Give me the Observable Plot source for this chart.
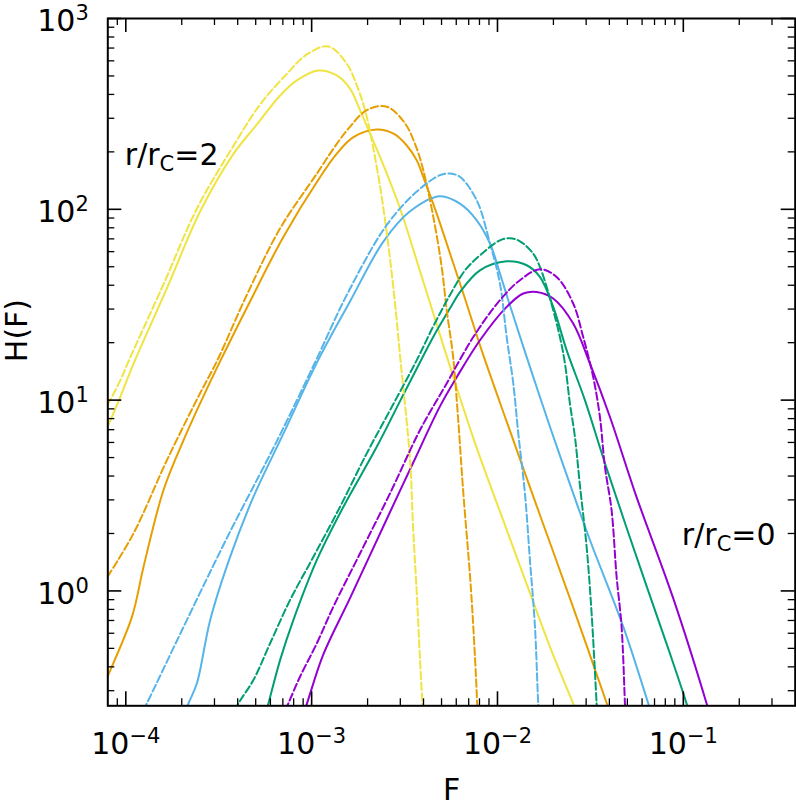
<!DOCTYPE html>
<html>
<head>
<meta charset="utf-8">
<script src="https://cdn.jsdelivr.net/npm/d3@7"></script>
<script src="https://cdn.jsdelivr.net/npm/@observablehq/plot@0.6"></script>
<style>
  body { margin: 0; background: #ffffff; }
</style>
</head>
<body>
<div id="chart"></div>
<script>
// ---------- data ----------
const yellowSolidF = [7.98e-5, 9.34e-5, 1.097e-4, 1.665e-4, 2.515e-4, 3.78e-4, 5.075e-4, 6.77e-4, 8.32e-4, 1.088e-3, 1.366e-3, 1.611e-3, 1.823e-3, 2.063e-3, 2.335e-3, 2.99e-3, 3.83e-3, 4.91e-3, 7.38e-3, 1.121e-2, 1.495e-2, 1.916e-2, 2.546e-2, 2.71e-2];
const yellowSolidH = [7.24, 10.4, 15.4, 38.6, 97.6, 194, 278.6, 395, 474, 534, 503, 428, 330, 249, 188, 101, 47.4, 21.9, 6.40, 2.09, 0.976, 0.509, 0.259, 0.224];

const yellowDashF = [7.98e-5, 9.34e-5, 1.035e-4, 1.59e-4, 2.415e-4, 3.78e-4, 5.285e-4, 7.36e-4, 9.42e-4, 1.231e-3, 1.546e-3, 1.75e-3, 1.94e-3, 2.223e-3, 2.454e-3, 2.743e-3, 3.01e-3, 3.385e-3, 3.513e-3, 3.678e-3, 3.831e-3, 4.0e-3];
const yellowDashH = [9.42, 12.7, 16.0, 40.2, 101, 213.7, 354.5, 513, 648, 714, 579, 446, 330, 174, 95.3, 40.0, 16.0, 4.85, 2.16, 0.976, 0.435, 0.199];

const orangeSolidF = [7.27e-5, 7.98e-5, 1.080e-4, 1.246e-4, 1.596e-4, 2.046e-4, 2.515e-4, 3.22e-4, 4.67e-4, 7.03e-4, 1.111e-3, 1.366e-3, 1.678e-3, 2.241e-3, 2.76e-3, 3.25e-3, 3.678e-3, 3.99e-3, 4.71e-3, 5.555e-3, 6.55e-3, 7.38e-3, 8.39e-3, 1.121e-2, 1.692e-2, 2.546e-2, 3.866e-2, 4.16e-2];
const orangeSolidH = [0.286, 0.356, 0.733, 1.34, 3.38, 6.17, 9.65, 16.0, 33.0, 71.4, 147.6, 195.7, 239, 262, 249, 216, 180.5, 147.6, 95.0, 58.6, 36.2, 25.2, 17.2, 7.71, 2.50, 0.828, 0.259, 0.211];

const orangeDashF = [7.98e-5, 1.101e-4, 1.665e-4, 2.515e-4, 3.093e-4, 4.48e-4, 6.77e-4, 1.067e-3, 1.31e-3, 1.577e-3, 1.98e-3, 2.537e-3, 3.18e-3, 3.678e-3, 3.99e-3, 4.48e-3, 5.01e-3, 5.33e-3, 5.77e-3, 6.13e-3, 6.55e-3, 7.12e-3, 7.41e-3, 7.73e-3, 7.81e-3];
const orangeDashH = [1.188, 2.005, 4.85, 10.9, 16.0, 35.6, 79.5, 153.8, 208, 264.6, 331, 345, 282, 208, 160, 95.0, 49.9, 29.6, 16.9, 8.18, 3.26, 1.188, 0.650, 0.292, 0.211];

const blueSolidF = [2.01e-4, 2.176e-4, 2.415e-4, 2.846e-4, 3.646e-4, 4.866e-4, 7.055e-4, 1.084e-3, 1.611e-3, 2.432e-3, 3.385e-3, 4.91e-3, 6.28e-3, 7.73e-3, 9.12e-3, 1.031e-2, 1.143e-2, 1.495e-2, 1.916e-2, 2.555e-2, 3.143e-2, 4.75e-2, 6.47e-2, 6.90e-2];
const blueSolidH = [0.211, 0.258, 0.329, 0.705, 1.512, 3.117, 6.69, 16.2, 33.0, 67.7, 97.6, 117, 107, 87.6, 66.1, 46.1, 33.4, 14.94, 7.25, 3.247, 1.849, 0.650, 0.258, 0.211];

const blueDashF = [1.172e-4, 1.30e-4, 1.963e-4, 3.50e-4, 6.50e-4, 1.057e-3, 1.546e-3, 2.537e-3, 3.678e-3, 4.91e-3, 5.555e-3, 6.28e-3, 7.73e-3, 9.12e-3, 1.031e-2, 1.121e-2, 1.216e-2, 1.294e-2, 1.405e-2, 1.495e-2, 1.591e-2, 1.657e-2, 1.682e-2];
const blueDashH = [0.211, 0.258, 0.596, 1.894, 6.10, 16.2, 35.6, 82.8, 123.8, 151, 154, 148, 111.5, 66.1, 40.8, 21.4, 12.23, 6.69, 3.247, 1.453, 0.650, 0.258, 0.211];

const greenSolidF = [5.54e-4, 5.86e-4, 6.77e-4, 7.98e-4, 1.067e-3, 1.483e-3, 2.241e-3, 2.99e-3, 3.83e-3, 4.517e-3, 5.555e-3, 6.28e-3, 8.05e-3, 1.121e-2, 1.436e-2, 1.692e-2, 1.995e-2, 2.355e-2, 2.954e-2, 3.831e-2, 5.84e-2, 8.46e-2, 0.1040, 0.1104];
const greenSolidH = [0.211, 0.258, 0.435, 0.705, 1.453, 2.763, 5.69, 9.88, 15.8, 21.5, 30.3, 36.8, 47.9, 53.4, 50.9, 44.2, 30.8, 18.27, 10.0, 4.51, 1.340, 0.472, 0.258, 0.211];

const greenDashF = [3.62e-4, 4.043e-4, 4.866e-4, 5.98e-4, 7.66e-4, 1.023e-3, 1.423e-3, 1.98e-3, 2.642e-3, 3.678e-3, 4.517e-3, 5.555e-3, 6.69e-3, 8.05e-3, 1.031e-2, 1.167e-2, 1.321e-2, 1.557e-2, 1.692e-2, 1.839e-2, 1.995e-2, 2.168e-2, 2.306e-2, 2.453e-2, 2.61e-2, 2.776e-2, 3.017e-2, 3.21e-2, 3.414e-2, 3.45e-2];
const greenDashH = [0.211, 0.258, 0.342, 0.532, 0.897, 1.512, 2.763, 5.26, 8.86, 16.2, 24.4, 35.6, 47.9, 57.4, 68.8, 70.5, 68.0, 58.6, 49.9, 39.2, 29.6, 21.4, 15.62, 9.61, 6.43, 3.59, 1.706, 0.764, 0.258, 0.211];

const purpleSolidF = [8.78e-4, 9.42e-4, 1.153e-3, 1.611e-3, 2.642e-3, 3.513e-3, 4.91e-3, 6.035e-3, 8.05e-3, 1.121e-2, 1.376e-2, 1.624e-2, 1.995e-2, 2.555e-2, 3.143e-2, 4.025e-2, 5.555e-2, 8.81e-2, 0.1333, 0.1414];
const purpleSolidH = [0.211, 0.256, 0.462, 0.919, 2.592, 4.68, 9.30, 13.19, 20.6, 30.8, 36.2, 36.9, 34.1, 25.2, 15.56, 8.18, 3.18, 0.919, 0.258, 0.211];

const purpleDashF = [6.86e-4, 7.50e-4, 8.67e-4, 1.067e-3, 1.31e-3, 1.823e-3, 2.642e-3, 3.83e-3, 5.33e-3, 7.41e-3, 1.031e-2, 1.321e-2, 1.692e-2, 2.081e-2, 2.555e-2, 2.893e-2, 3.273e-2, 3.557e-2, 3.785e-2, 4.11e-2, 4.375e-2, 4.654e-2, 4.85e-2, 4.895e-2];
const purpleDashH = [0.211, 0.258, 0.356, 0.532, 0.828, 1.575, 3.247, 6.97, 12.23, 21.4, 33.4, 42.5, 48.5, 44.2, 32.1, 21.4, 13.24, 8.18, 4.475, 2.656, 1.188, 0.650, 0.258, 0.211];

const seriesNames = ["s1", "s2", "s3", "s4", "s5"];
const seriesColors = ["#f0e442", "#e69f00", "#56b4e9", "#009e73", "#9400d3"];

const xMajor = [1e-4, 1e-3, 1e-2, 1e-1];
const xTickLabels = ["10^\u22124", "10^\u22123", "10^\u22122", "10^\u22121"];
const xMinor = [9e-5, 2e-4, 3e-4, 4e-4, 5e-4, 6e-4, 7e-4, 8e-4, 9e-4, 2e-3, 3e-3, 4e-3, 5e-3, 6e-3, 7e-3, 8e-3, 9e-3, 2e-2, 3e-2, 4e-2, 5e-2, 6e-2, 7e-2, 8e-2, 9e-2, 0.2, 0.3];
const yMajor = [1, 10, 100, 1000];
const yTickLabels = ["10^0", "10^1", "10^2", "10^3"];
const yMinor = [0.3, 0.4, 0.5, 0.6, 0.7, 0.8, 0.9, 2, 3, 4, 5, 6, 7, 8, 9, 20, 30, 40, 50, 60, 70, 80, 90, 200, 300, 400, 500, 600, 700, 800, 900];

const annotations = [
  {F: 9.88e-5, H: 170, label: "r/r_C=2"},
  {F: 0.0982, H: 1.741, label: "r/r_C=0"}
];
const xDomain = [8e-5, 0.4];
const yDomain = [0.25, 1000];

// ---------- tidy tables ----------
function rows(F, H, name) { return F.map((f, i) => ({F: f, H: H[i], name})); }
const solidRows = [
  ...rows(yellowSolidF, yellowSolidH, "s1"),
  ...rows(orangeSolidF, orangeSolidH, "s2"),
  ...rows(blueSolidF, blueSolidH, "s3"),
  ...rows(greenSolidF, greenSolidH, "s4"),
  ...rows(purpleSolidF, purpleSolidH, "s5")
];
const dashRows = [
  ...rows(yellowDashF, yellowDashH, "s1"),
  ...rows(orangeDashF, orangeDashH, "s2"),
  ...rows(blueDashF, blueDashH, "s3"),
  ...rows(greenDashF, greenDashH, "s4"),
  ...rows(purpleDashF, purpleDashH, "s5")
];

// ---------- layout ----------
const W = 796, HT = 808;
const mL = 107.3, mR = 1.3, mT = 18, mB = 102.7;
const innerW = W - mL - mR, innerH = HT - mT - mB;
const majorLen = 14, minorLen = 7;
const FS = 30;

const xLab = new Map(xMajor.map((v, i) => [v, xTickLabels[i]]));
const yLab = new Map(yMajor.map((v, i) => [v, yTickLabels[i]]));

const chart = Plot.plot({
  width: W, height: HT,
  marginLeft: mL, marginRight: mR, marginTop: mT, marginBottom: mB,
  style: {fontFamily: "DejaVu Sans", fontSize: FS + "px", background: "#ffffff", color: "#000"},
  x: {type: "log", domain: xDomain, label: null},
  y: {type: "log", domain: yDomain, label: null},
  color: {type: "ordinal", domain: seriesNames, range: seriesColors},
  marks: [
    Plot.line(solidRows, {x: "F", y: "H", z: "name", stroke: "name", strokeWidth: 2, curve: "catmull-rom", clip: true}),
    Plot.line(dashRows, {x: "F", y: "H", z: "name", stroke: "name", strokeWidth: 2, strokeDasharray: "7.4,3.2", curve: "catmull-rom", clip: true}),
    // inward ticks, bottom & top
    Plot.tickX(xMajor, {x: d => d, insetTop: innerH - majorLen, stroke: "#000", strokeWidth: 1.6}),
    Plot.tickX(xMajor, {x: d => d, insetBottom: innerH - majorLen, stroke: "#000", strokeWidth: 1.6}),
    Plot.tickX(xMinor, {x: d => d, insetTop: innerH - minorLen, stroke: "#000", strokeWidth: 1.3}),
    Plot.tickX(xMinor, {x: d => d, insetBottom: innerH - minorLen, stroke: "#000", strokeWidth: 1.3}),
    // inward ticks, left & right
    Plot.tickY(yMajor, {y: d => d, insetRight: innerW - majorLen, stroke: "#000", strokeWidth: 1.6}),
    Plot.tickY(yMajor, {y: d => d, insetLeft: innerW - majorLen, stroke: "#000", strokeWidth: 1.6}),
    Plot.tickY(yMinor, {y: d => d, insetRight: innerW - minorLen, stroke: "#000", strokeWidth: 1.3}),
    Plot.tickY(yMinor, {y: d => d, insetLeft: innerW - minorLen, stroke: "#000", strokeWidth: 1.3}),
    Plot.frame({stroke: "#000", strokeWidth: 2}),
    Plot.axisX({ticks: xMajor, tickFormat: d => xLab.get(d), tickSize: 0, tickPadding: 26.7, fontSize: FS, label: null}),
    Plot.axisY({ticks: yMajor, tickFormat: d => yLab.get(d), tickSize: 0, tickPadding: 19, dy: 3, fontSize: FS, label: null}),
    Plot.text(annotations, {x: "F", y: "H", text: "label", textAnchor: "start", lineAnchor: "bottom", fontSize: FS, fill: "#000"}),
    Plot.text(["F"], {frameAnchor: "bottom", lineAnchor: "bottom", dy: 94, fontSize: FS, fill: "#000"}),
    Plot.text(["H(F)"], {frameAnchor: "left", lineAnchor: "bottom", rotate: -90, dx: -81, fontSize: FS, fill: "#000"})
  ]
});

// superscripts / subscripts as real tspans
const NS = "http://www.w3.org/2000/svg";
function span(t, s, attrs) {
  const e = document.createElementNS(NS, "tspan");
  e.textContent = s;
  for (const k in attrs) e.setAttribute(k, attrs[k]);
  t.appendChild(e);
}
chart.querySelectorAll("text").forEach(t => {
  const s = t.textContent;
  if (s.includes("^")) {
    const [base, exp] = s.split("^");
    t.textContent = "";
    span(t, base, {});
    span(t, exp, {"font-size": 21, dy: -11});
  } else if (s.includes("_")) {
    const [pre, rest] = s.split("_");
    t.textContent = "";
    span(t, pre, {});
    span(t, rest[0], {"font-size": 21, dy: 6});
    span(t, rest.slice(1), {dy: -6});
  }
});

document.getElementById("chart").appendChild(chart);
</script>
</body>
</html>
